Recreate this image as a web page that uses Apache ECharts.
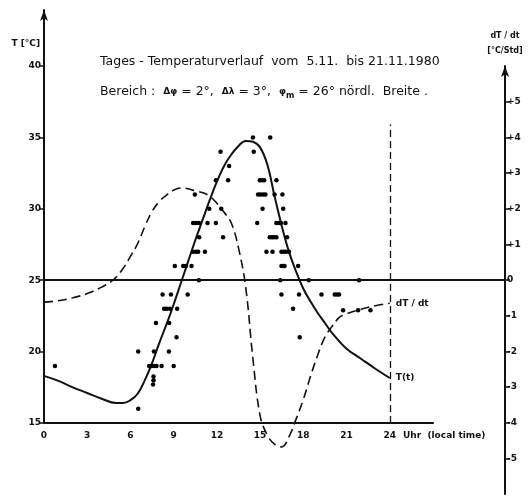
<!DOCTYPE html>
<html>
<head>
<meta charset="utf-8">
<script src="https://cdn.jsdelivr.net/npm/echarts@6/dist/echarts.min.js"></script>
<style>
  html, body { margin: 0; padding: 0; background: #fff; }
  #chart { width: 531px; height: 497px; }
</style>
</head>
<body>
<div id="chart"></div>
<script>
// Tagesgang der Temperatur, 5.11. - 21.11.1980
const chart = echarts.init(document.getElementById('chart'));

const hourTicks = [0, 3, 6, 9, 12, 15, 18, 21, 24];
const tempTicks = [15, 20, 25, 30, 35, 40];
const rateTicks = [-5, -4, -3, -2, -1, 0, 1, 2, 3, 4, 5];

// T(t) Kurve
const curveHours = [0, 1, 2, 3, 4, 5, 5.5, 6, 6.5, 7, 7.5, 8, 8.5, 9, 9.5, 10, 10.5, 11, 11.5, 12,
  12.5, 13, 13.5, 14, 14.5, 15, 15.5, 16, 16.5, 17, 17.5, 18, 18.5, 19, 19.5, 20, 21, 22, 23, 24];
const curveTemps = [18.3, 17.95, 17.5, 17.1, 16.7, 16.4, 16.4, 16.6, 17.05, 18.0, 19.2, 20.6, 21.9, 23.3, 24.8, 26.3, 27.8, 29.2, 30.6, 31.9,
  33.0, 33.8, 34.4, 34.75, 34.7, 34.3, 33.1, 30.9, 28.8, 27.0, 25.6, 24.4, 23.5, 22.7, 22.0, 21.3, 20.2, 19.5, 18.8, 18.15];

// dT/dt Kurve
const rateHours = [0, 1, 2, 3, 4, 4.8, 5.5, 6, 6.5, 7, 7.5, 8, 8.5, 9, 9.5, 10, 10.5, 11, 11.5, 12,
  12.5, 13, 13.5, 14, 14.5, 15, 15.5, 16, 16.5, 17, 17.5, 18, 18.5, 19, 19.5, 20, 20.5, 21, 22, 23, 24];
const rateValues = [-0.62, -0.58, -0.5, -0.38, -0.2, 0, 0.33, 0.66, 1.02, 1.5, 1.92, 2.2, 2.38, 2.52, 2.58, 2.56, 2.5, 2.45, 2.35, 2.15,
  1.9, 1.6, 0.9, -0.2, -2.2, -3.8, -4.35, -4.6, -4.68, -4.4, -3.9, -3.35, -2.7, -2.1, -1.6, -1.3, -1.05, -0.95, -0.82, -0.72, -0.65];

// Messwerte
const obsHours = [0.76,
  6.54, 6.54, 7.63, 8.67, 9.2,
  7.3, 7.47, 7.65, 7.81, 8.16, 9.0,
  7.6, 7.6, 7.57,
  7.77, 8.69,
  8.34, 8.51, 8.74, 9.24,
  8.23, 8.81, 9.97,
  10.75,
  9.08, 9.66, 9.85, 10.24,
  10.35, 10.54, 10.7, 11.17,
  10.77, 12.43,
  10.35, 10.55, 10.75, 11.35, 11.93,
  11.47, 12.3,
  10.47,
  11.93, 12.78,
  12.85,
  12.25,
  14.5, 15.7,
  14.56,
  14.98, 15.14, 15.28, 16.13,
  14.86, 15.03, 15.2, 15.37, 16.0, 16.55,
  15.17, 16.6,
  14.8, 16.13, 16.3, 16.44, 16.76,
  15.67, 15.83, 15.97, 16.13, 16.87,
  15.44, 15.86, 16.48, 16.64, 16.78, 17.0,
  16.48, 16.6, 16.7, 17.64,
  16.4, 18.38, 21.87,
  16.48, 17.7, 19.26, 20.18, 20.34, 20.48,
  17.29, 20.76, 21.8, 22.66,
  17.75];
const obsTemps = [19,
  20, 16, 20, 20, 21,
  19, 19, 19, 19, 19, 19,
  18.25, 18.0, 17.7,
  22, 22,
  23, 23, 23, 23,
  24, 24, 24,
  25,
  26, 26, 26, 26,
  27, 27, 27, 27,
  28, 28,
  29, 29, 29, 29, 29,
  30, 30,
  31,
  32, 32,
  33,
  34,
  35, 35,
  34,
  32, 32, 32, 32,
  31, 31, 31, 31, 31, 31,
  30, 30,
  29, 29, 29, 29, 29,
  28, 28, 28, 28, 28,
  27, 27, 27, 27, 27, 27,
  26, 26, 26, 26,
  25, 25, 25,
  24, 24, 24, 24, 24, 24,
  23, 22.9, 22.9, 22.9,
  21];

const endHour = 24;
const endLineTop = 35.9;

const axisFont = { fontFamily: 'DejaVu Sans', fontSize: 9, fontWeight: 'bold', color: '#111' };
const blackLine = { color: '#111', width: 2 };

const option = {
  animation: false,
  backgroundColor: '#fff',
  title: [
    {
      text: 'Tages - Temperaturverlauf  vom  5.11.  bis 21.11.1980',
      left: 100,
      top: 55,
      padding: 0,
      textStyle: { fontFamily: 'DejaVu Sans', fontSize: 12.5, fontWeight: 'normal', color: '#111' }
    },
    {
      text: '{t|Bereich :  }{g|Δφ}{t| = 2°,  }{g|Δλ}{t| = 3°,  }{g|φ}{s|m}{t| = 26° nördl.  Breite .}',
      left: 100,
      top: 84,
      padding: 0,
      textStyle: {
        fontWeight: 'normal',
        rich: {
          t: { fontFamily: 'DejaVu Sans', fontSize: 12.5, fontWeight: 'normal', color: '#111', lineHeight: 16 },
          g: { fontFamily: 'DejaVu Sans', fontSize: 9, fontWeight: 'bold', color: '#111', lineHeight: 16 },
          s: { fontFamily: 'DejaVu Sans', fontSize: 8, fontWeight: 'bold', color: '#111', lineHeight: 16, padding: [8, 0, 0, 0] }
        }
      }
    }
  ],
  grid: [
    { left: 44, top: 10, width: 389, height: 413 },
    { left: 44, top: 66, width: 461, height: 428 }
  ],
  xAxis: [
    {
      type: 'value',
      gridIndex: 0,
      min: 0,
      max: 27,
      interval: 3,
      name: 'Uhr  (local time)',
      nameLocation: 'end',
      nameGap: -30,
      nameTextStyle: Object.assign({}, axisFont, { verticalAlign: 'top', padding: [8, 0, 0, 0] }),
      axisLine: { onZero: false, lineStyle: blackLine },
      axisTick: { show: false },
      axisLabel: Object.assign({}, axisFont, { margin: 8, customValues: hourTicks }),
      splitLine: { show: false }
    },
    {
      type: 'value',
      gridIndex: 1,
      min: 0,
      max: 32,
      show: false
    }
  ],
  yAxis: [
    {
      type: 'value',
      gridIndex: 0,
      min: 15,
      max: 43.92,
      name: 'T [°C]',
      nameLocation: 'end',
      nameGap: -34,
      nameTextStyle: Object.assign({}, axisFont, { align: 'right', verticalAlign: 'middle', padding: [0, 4, 0, 0] }),
      axisLine: { onZero: false, lineStyle: blackLine, symbol: ['none', 'arrow'], symbolSize: [6, 11] },
      axisTick: { length: 5, lineStyle: { color: '#111', width: 1.5 }, customValues: tempTicks },
      axisLabel: Object.assign({}, axisFont, { margin: 3, customValues: tempTicks }),
      splitLine: { show: false }
    },
    {
      type: 'value',
      gridIndex: 1,
      position: 'right',
      min: -6,
      max: 6,
      name: 'dT / dt\n[°C/Std]',
      nameLocation: 'end',
      nameGap: 8,
      nameTextStyle: Object.assign({}, axisFont, { fontSize: 8, lineHeight: 15 }),
      axisLine: { onZero: false, lineStyle: blackLine, symbol: ['none', 'arrow'], symbolSize: [6, 11] },
      axisTick: { length: 5, lineStyle: { color: '#111', width: 1.5 }, customValues: rateTicks },
      axisLabel: Object.assign({}, axisFont, {
        margin: 2,
        customValues: rateTicks,
        formatter: v => (v > 0 ? '+' + v : String(v))
      }),
      splitLine: { show: false }
    }
  ],
  series: [
    {
      name: 'T(t)',
      type: 'line',
      xAxisIndex: 0,
      yAxisIndex: 0,
      data: curveHours.map((h, i) => [h, curveTemps[i]]),
      smooth: 0.4,
      symbol: 'none',
      lineStyle: { color: '#111', width: 2 },
      endLabel: { show: true, formatter: 'T(t)', color: '#111', fontFamily: 'DejaVu Sans', fontSize: 9, fontWeight: 'bold', distance: 6 },
      markLine: {
        silent: true,
        symbol: 'none',
        label: { show: false },
        lineStyle: { color: '#111', width: 1.3, type: [7, 4] },
        data: [[{ coord: [endHour, 15] }, { coord: [endHour, endLineTop] }]]
      },
      z: 3
    },
    {
      name: 'Messwerte',
      type: 'scatter',
      xAxisIndex: 0,
      yAxisIndex: 0,
      data: obsHours.map((h, i) => [h, obsTemps[i]]),
      symbolSize: 4.5,
      itemStyle: { color: '#000', opacity: 1 },
      z: 4
    },
    {
      name: 'dT/dt',
      type: 'line',
      xAxisIndex: 1,
      yAxisIndex: 1,
      data: rateHours.map((h, i) => [h, rateValues[i]]),
      smooth: 0.4,
      symbol: 'none',
      lineStyle: { color: '#111', width: 1.6, type: [9, 5] },
      endLabel: { show: true, formatter: 'dT / dt', color: '#111', fontFamily: 'DejaVu Sans', fontSize: 9, fontWeight: 'bold', distance: 6 },
      markLine: {
        silent: true,
        symbol: 'none',
        label: { show: false },
        lineStyle: { color: '#111', width: 1.8, type: 'solid' },
        data: [{ yAxis: 0 }]
      },
      z: 2
    }
  ]
};
chart.setOption(option);
</script>
</body>
</html>
